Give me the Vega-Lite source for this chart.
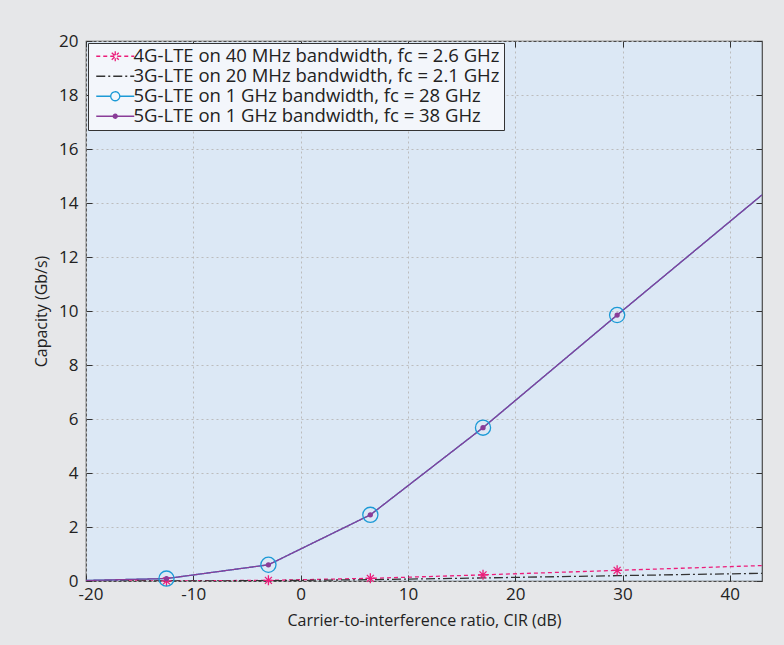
{
  "$schema": "https://vega.github.io/schema/vega-lite/v6.json",
  "width": 676,
  "height": 540,
  "autosize": {"type": "none"},
  "padding": {"left": 86, "top": 41, "right": 22, "bottom": 64},
  "background": "#e6e7e9",
  "config": {
    "font": "Open Sans",
    "view": {"fill": "#dce8f5", "stroke": "#4a4a4a", "strokeWidth": 1.2},
    "axis": {
      "domain": false,
      "tickColor": "#333333",
      "tickWidth": 1,
      "tickSize": -6,
      "labelFontSize": 17,
      "labelColor": "#222222",
      "titleFontSize": 16,
      "titleFontWeight": "normal",
      "titleColor": "#222222",
      "gridColor": "#bcbcbc",
      "gridDash": [2, 3],
      "gridWidth": 1
    }
  },
  "datasets": {
    "curves": [
      {"series": "4G-LTE on 40 MHz bandwidth, fc = 2.6 GHz", "cir": -20, "capacity": 0.001},
      {"series": "4G-LTE on 40 MHz bandwidth, fc = 2.6 GHz", "cir": -12.5, "capacity": 0.004},
      {"series": "4G-LTE on 40 MHz bandwidth, fc = 2.6 GHz", "cir": -3, "capacity": 0.024},
      {"series": "4G-LTE on 40 MHz bandwidth, fc = 2.6 GHz", "cir": 6.5, "capacity": 0.098},
      {"series": "4G-LTE on 40 MHz bandwidth, fc = 2.6 GHz", "cir": 17, "capacity": 0.227},
      {"series": "4G-LTE on 40 MHz bandwidth, fc = 2.6 GHz", "cir": 29.5, "capacity": 0.394},
      {"series": "4G-LTE on 40 MHz bandwidth, fc = 2.6 GHz", "cir": 43, "capacity": 0.572},
      {"series": "3G-LTE on 20 MHz bandwidth, fc = 2.1 GHz", "cir": -20, "capacity": 0.0},
      {"series": "3G-LTE on 20 MHz bandwidth, fc = 2.1 GHz", "cir": -12.5, "capacity": 0.002},
      {"series": "3G-LTE on 20 MHz bandwidth, fc = 2.1 GHz", "cir": -3, "capacity": 0.012},
      {"series": "3G-LTE on 20 MHz bandwidth, fc = 2.1 GHz", "cir": 6.5, "capacity": 0.049},
      {"series": "3G-LTE on 20 MHz bandwidth, fc = 2.1 GHz", "cir": 17, "capacity": 0.114},
      {"series": "3G-LTE on 20 MHz bandwidth, fc = 2.1 GHz", "cir": 29.5, "capacity": 0.197},
      {"series": "3G-LTE on 20 MHz bandwidth, fc = 2.1 GHz", "cir": 43, "capacity": 0.286},
      {"series": "5G-LTE on 1 GHz bandwidth, fc = 28 GHz", "cir": -20, "capacity": 0.02},
      {"series": "5G-LTE on 1 GHz bandwidth, fc = 28 GHz", "cir": -12.5, "capacity": 0.09},
      {"series": "5G-LTE on 1 GHz bandwidth, fc = 28 GHz", "cir": -3, "capacity": 0.6},
      {"series": "5G-LTE on 1 GHz bandwidth, fc = 28 GHz", "cir": 6.5, "capacity": 2.45},
      {"series": "5G-LTE on 1 GHz bandwidth, fc = 28 GHz", "cir": 17, "capacity": 5.68},
      {"series": "5G-LTE on 1 GHz bandwidth, fc = 28 GHz", "cir": 29.5, "capacity": 9.85},
      {"series": "5G-LTE on 1 GHz bandwidth, fc = 28 GHz", "cir": 43, "capacity": 14.3},
      {"series": "5G-LTE on 1 GHz bandwidth, fc = 38 GHz", "cir": -20, "capacity": 0.02},
      {"series": "5G-LTE on 1 GHz bandwidth, fc = 38 GHz", "cir": -12.5, "capacity": 0.09},
      {"series": "5G-LTE on 1 GHz bandwidth, fc = 38 GHz", "cir": -3, "capacity": 0.6},
      {"series": "5G-LTE on 1 GHz bandwidth, fc = 38 GHz", "cir": 6.5, "capacity": 2.45},
      {"series": "5G-LTE on 1 GHz bandwidth, fc = 38 GHz", "cir": 17, "capacity": 5.68},
      {"series": "5G-LTE on 1 GHz bandwidth, fc = 38 GHz", "cir": 29.5, "capacity": 9.85},
      {"series": "5G-LTE on 1 GHz bandwidth, fc = 38 GHz", "cir": 43, "capacity": 14.3}
    ]
  },
  "data": {"name": "curves"},
  "resolve": {"axis": {"x": "independent", "y": "independent"}},
  "layer": [
    {
      "mark": {"type": "line", "strokeWidth": 1.3, "clip": true},
      "encoding": {
        "x": {
          "field": "cir", "type": "quantitative",
          "scale": {"domain": [-20, 43], "nice": false, "zero": false},
          "axis": {
            "orient": "bottom",
            "values": [-20, -10, 0, 10, 20, 30, 40],
            "labelExpr": "'' + datum.value",
            "labelFlush": 1,
            "labelFlushOffset": 8,
            "labelPadding": 11,
            "grid": true,
            "title": "Carrier-to-interference ratio, CIR (dB)",
            "titlePadding": 10
          }
        },
        "y": {
          "field": "capacity", "type": "quantitative",
          "scale": {"domain": [0, 20], "nice": false, "zero": false},
          "axis": {
            "orient": "left",
            "values": [0, 2, 4, 6, 8, 10, 12, 14, 16, 18, 20],
            "labelFlush": false,
            "labelPadding": 14,
            "grid": true,
            "title": "Capacity (Gb/s)",
            "titlePadding": 9
          }
        },
        "color": {
          "field": "series", "type": "nominal",
          "scale": {
            "domain": ["4G-LTE on 40 MHz bandwidth, fc = 2.6 GHz", "3G-LTE on 20 MHz bandwidth, fc = 2.1 GHz", "5G-LTE on 1 GHz bandwidth, fc = 28 GHz", "5G-LTE on 1 GHz bandwidth, fc = 38 GHz"],
            "range": ["#ec1c7a", "#333333", "#1c9ad6", "#8a3c98"]
          },
          "legend": {
            "title": null,
            "orient": "top-left",
            "offset": 2,
            "fillColor": "#f3f6fb",
            "strokeColor": "#333333",
            "padding": 4,
            "labelFont": "Open Sans",
            "labelFontSize": 18.5,
            "labelColor": "#222222",
            "labelLimit": 0,
            "rowPadding": 1,
            "symbolSize": 100,
            "symbolStrokeWidth": 1.3,
            "symbolOffset": 14,
            "labelOffset": 9,
            "encode": {
              "symbols": {
                "update": {
                  "shape": {"signal": "indexof(datum.value,'4G')==0 ? 'M-3.8,0L3.8,0M-1,0L1,0M0,-1L0,1M-0.7,-0.7L0.7,0.7M-0.7,0.7L0.7,-0.7' : indexof(datum.value,'28 GHz')>0 ? 'M-3.8,0L-0.9,0M0.9,0L3.8,0M0.9,0A0.9,0.9 0 1 1 -0.9,0A0.9,0.9 0 1 1 0.9,0' : indexof(datum.value,'38 GHz')>0 ? 'M-3.8,0L3.8,0M0.4,0A0.4,0.4 0 1 1 -0.4,0A0.4,0.4 0 1 1 0.4,0' : 'M-3.8,0L3.8,0'"},
                  "fill": {"signal": "indexof(datum.value,'38 GHz')>0 ? '#8a3c98' : 'transparent'"}
                }
              }
            }
          }
        },
        "strokeDash": {
          "field": "series", "type": "nominal",
          "scale": {
            "domain": ["4G-LTE on 40 MHz bandwidth, fc = 2.6 GHz", "3G-LTE on 20 MHz bandwidth, fc = 2.1 GHz", "5G-LTE on 1 GHz bandwidth, fc = 28 GHz", "5G-LTE on 1 GHz bandwidth, fc = 38 GHz"],
            "range": [[4, 3], [9, 3, 2, 3], [1, 0], [1, 0]]
          },
          "legend": {
            "title": null,
            "orient": "top-left",
            "offset": 2,
            "fillColor": "#f3f6fb",
            "strokeColor": "#333333",
            "padding": 4,
            "labelFont": "Open Sans",
            "labelFontSize": 18.5,
            "labelColor": "#222222",
            "labelLimit": 0,
            "rowPadding": 1,
            "symbolSize": 100,
            "symbolStrokeWidth": 1.3,
            "symbolOffset": 14,
            "labelOffset": 9
          }
        }
      }
    },
    {
      "transform": [
        {"filter": {"and": [{"field": "series", "equal": "4G-LTE on 40 MHz bandwidth, fc = 2.6 GHz"}, {"field": "cir", "range": [-19, 42]}]}}
      ],
      "mark": {"type": "point", "shape": "M-1,0L1,0M0,-1L0,1M-0.7,-0.7L0.7,0.7M-0.7,0.7L0.7,-0.7", "size": 100, "stroke": "#ec1c7a", "strokeWidth": 1.3, "filled": false, "opacity": 1},
      "encoding": {
        "x": {"field": "cir", "type": "quantitative", "axis": null},
        "y": {"field": "capacity", "type": "quantitative", "axis": null}
      }
    },
    {
      "transform": [
        {"filter": {"and": [{"field": "series", "equal": "5G-LTE on 1 GHz bandwidth, fc = 28 GHz"}, {"field": "cir", "range": [-19, 42]}]}}
      ],
      "mark": {"type": "point", "shape": "circle", "size": 230, "stroke": "#1c9ad6", "strokeWidth": 1.3, "filled": false, "opacity": 1},
      "encoding": {
        "x": {"field": "cir", "type": "quantitative", "axis": {"orient": "top", "values": [-20, -10, 0, 10, 20, 30, 40], "labels": false, "grid": false, "title": null}},
        "y": {"field": "capacity", "type": "quantitative", "axis": {"orient": "right", "values": [0, 2, 4, 6, 8, 10, 12, 14, 16, 18, 20], "labels": false, "grid": false, "title": null}}
      }
    },
    {
      "transform": [
        {"filter": {"and": [{"field": "series", "equal": "5G-LTE on 1 GHz bandwidth, fc = 38 GHz"}, {"field": "cir", "range": [-19, 42]}]}}
      ],
      "mark": {"type": "circle", "size": 28, "color": "#8a3c98", "opacity": 1},
      "encoding": {
        "x": {"field": "cir", "type": "quantitative", "axis": null},
        "y": {"field": "capacity", "type": "quantitative", "axis": null}
      }
    }
  ]
}
